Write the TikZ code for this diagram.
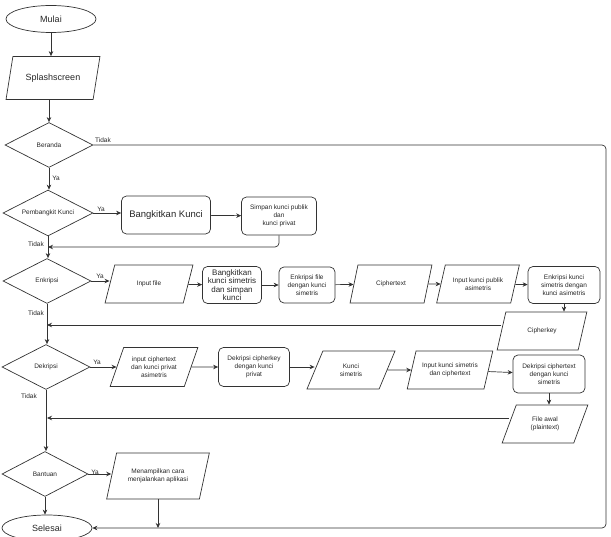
\documentclass[tikz,border=0pt]{standalone}
\usepackage{fontspec}
\setmainfont{Liberation Sans}
\usetikzlibrary{shapes.geometric,arrows.meta}

\tikzset{
  every node/.style={font=\fontsize{6.5}{8}\selectfont, text=black!85},
  line/.style={draw=black!80, line width=0.7pt},
  arr/.style={line, -{Stealth[length=5pt,width=4.5pt]}},
  terminal/.style={ellipse, line, minimum width=90pt, minimum height=27pt, font=\fontsize{9}{10}\selectfont},
  decision/.style={diamond, line, aspect=2, inner sep=0pt, minimum width=88pt, minimum height=45pt},
  process/.style={rectangle, rounded corners=5pt, line, align=center, inner sep=1pt, minimum width=72pt, minimum height=38pt},
  io/.style={trapezium, trapezium left angle=65, trapezium right angle=115, trapezium stretches=true,
    line, align=center, inner sep=1pt, minimum width=86pt, minimum height=38pt},
  lbl/.style={inner sep=1pt}
}

\begin{document}
\begin{tikzpicture}[x=1pt,y=-1pt]
\useasboundingbox (0,0) rectangle (611,537);

%start
\node[terminal] (mulai) at (51,19) {Mulai};
\node[io, minimum width=94pt, minimum height=43pt, font=\fontsize{9}{10}\selectfont] (splash) at (53,78) {Splashscreen};

%menu
\node[decision] (beranda) at (49,145) {Beranda};
\node[decision, minimum width=90pt, minimum height=46pt] (pembangkit) at (48,213) {Pembangkit Kunci};
\node[decision] (enkripsi) at (47,281) {Enkripsi};
\node[decision] (dekripsi) at (46,367) {Dekripsi};
\node[decision, minimum width=86pt] (bantuan) at (45,474) {Bantuan};
\node[terminal, minimum height=26pt] (selesai) at (47,528) {Selesai};

%pembangkit kunci
\node[process, minimum width=89pt, font=\fontsize{9.5}{11}\selectfont] (bangkit) at (166,215) {Bangkitkan Kunci};
\node[process, minimum width=75pt] (simpan) at (279,216) {Simpan kunci publik\\dan\\kunci privat};

%enkripsi
\node[io, minimum width=88pt] (inputfile) at (149,284) {Input file};
\node[process, minimum width=59pt, minimum height=37pt, font=\fontsize{8}{8.3}\selectfont] (bangkitsim) at (232,285) {Bangkitkan\\kunci simetris\\dan simpan\\kunci};
\node[process, minimum width=56pt, minimum height=36pt] (enkfile) at (307,285) {Enkripsi file\\dengan kunci\\simetris};
\node[io, minimum width=82pt] (cipher) at (391,284) {Ciphertext};
\node[io, minimum width=83pt] (inpublik) at (478,284) {Input kunci publik\\asimetris};
\node[process, minimum height=37pt] (enkkunci) at (564,285) {Enkripsi kunci\\simetris dengan\\kunci asimetris};
\node[io, minimum width=90pt] (ckey) at (542,331) {Cipherkey};

%dekripsi
\node[io, minimum width=88pt, minimum height=39pt] (inprivat) at (154,367) {input ciphertext\\dan kunci privat\\asimetris};
\node[process, minimum width=71pt, minimum height=39pt] (dekkey) at (254,367) {Dekripsi cipherkey\\dengan kunci\\privat};
\node[io, minimum width=88pt] (kuncisim) at (351,370) {Kunci\\simetris};
\node[io] (insim) at (450,370) {Input kunci simetris\\dan ciphertext};
\node[process] (dekfile) at (549,374) {Dekripsi ciphertext\\dengan kunci\\simetris};
\node[io] (fileawal) at (545,424) {File awal\\(plaintext)};

%bantuan
\node[io, minimum width=103pt, minimum height=46pt] (cara) at (158,476) {Menampilkan cara\\menjalankan aplikasi};

%junctions
\coordinate (j1) at (48,247);
\coordinate (j2) at (47,325);
\coordinate (j3) at (47,418);
\coordinate (kanan) at (606,528);

%main line
\draw[arr] (mulai) -- (mulai |- splash.north);
\draw[arr] (splash.south -| beranda) -- (beranda.north);
\draw[arr] (beranda.south) -- (beranda.south |- pembangkit.north);
\draw[arr] (pembangkit.south) -- (pembangkit.south |- enkripsi.north);
\draw[arr] (enkripsi.south) -- (enkripsi.south |- dekripsi.north);
\draw[arr] (dekripsi.south) -- (dekripsi.south |- bantuan.north);
\draw[arr] (bantuan.south) -- (bantuan.south |- selesai.north);

%tidak ke selesai
\draw[arr, rounded corners=4pt] (beranda.east) -| (kanan) -- (selesai.east);

%ya branches
\draw[arr] (pembangkit.east) -- (pembangkit.east -| bangkit.west);
\draw[arr] (bangkit) -- (simpan);
\draw[arr, rounded corners=4pt] (simpan.south) |- (j1);

\draw[arr] (enkripsi.east) -- (enkripsi.east -| inputfile.west);
\draw[arr] (inputfile) -- (bangkitsim);
\draw[arr] (bangkitsim) -- (enkfile);
\draw[arr] (enkfile) -- (cipher);
\draw[arr] (cipher) -- (inpublik);
\draw[arr] (inpublik) -- (enkkunci);
\draw[arr] (enkkunci.south) -- (enkkunci.south |- ckey.north);
\draw[arr] (j2 -| ckey.west) -- (j2);

\draw[arr] (dekripsi.east) -- (dekripsi.east -| inprivat.west);
\draw[arr] (inprivat) -- (dekkey);
\draw[arr] (dekkey) -- (dekkey -| kuncisim.west);
\draw[arr] (kuncisim) -- (insim);
\draw[arr] (insim) -- (dekfile);
\draw[arr] (dekfile.south) -- (dekfile.south |- fileawal.north);
\draw[arr] (j3 -| fileawal.west) -- (j3);

\draw[arr] (bantuan.east) -- (bantuan.east -| cara.west);
\draw[arr] (cara.south) -- (cara.south |- kanan);

%labels
\node[lbl] (t0) at (103,140) {Tidak};
\node[lbl] (y0) at (56,178) {Ya};
\node[lbl] (y1) at (101,209) {Ya};
\node[lbl] (t1) at (36,244) {Tidak};
\node[lbl] (y2) at (100,276) {Ya};
\node[lbl] (t2) at (36,313) {Tidak};
\node[lbl] (y3) at (97,362) {Ya};
\node[lbl] (t3) at (29,396) {Tidak};
\node[lbl] (y4) at (95,472) {Ya};

\end{tikzpicture}
\end{document}
